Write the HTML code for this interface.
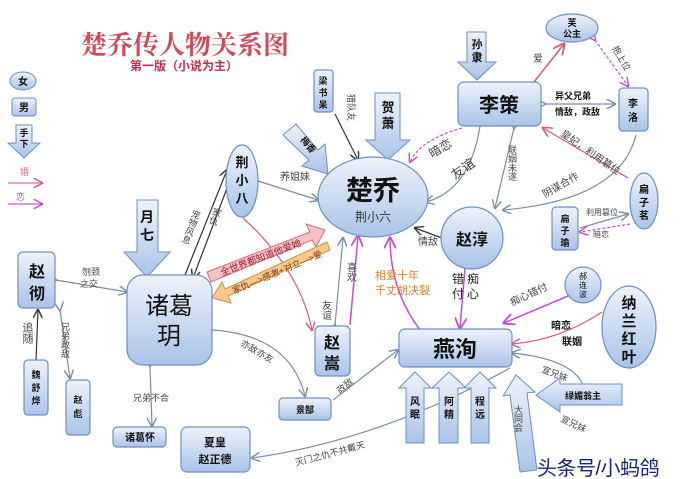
<!DOCTYPE html>
<html><head><meta charset="utf-8"><style>
html,body{margin:0;padding:0;background:#fff;}
svg{display:block;font-family:"Liberation Sans","Noto Sans CJK SC",sans-serif;}
.b{font-weight:bold;fill:#111;}
.l{font-size:10px;fill:#444;}
</style></head><body>
<svg width="696" height="479" viewBox="0 0 696 479" xmlns="http://www.w3.org/2000/svg">
<defs>
<linearGradient id="g" x1="0" y1="0" x2="0" y2="1"><stop offset="0" stop-color="#eef3fb"/><stop offset="1" stop-color="#a9c3e8"/></linearGradient>
<marker id="a" markerWidth="8" markerHeight="8" refX="7" refY="4" orient="auto"><path d="M0,0 L8,4 L0,8" fill="none" stroke="#7a8ea8" stroke-width="1.2"/></marker>
<marker id="ar" markerWidth="8" markerHeight="8" refX="7" refY="4" orient="auto"><path d="M0,0 L8,4 L0,8" fill="none" stroke="#d0607a" stroke-width="1.2"/></marker>
<marker id="ap" markerWidth="8" markerHeight="8" refX="7" refY="4" orient="auto"><path d="M0,0 L8,4 L0,8" fill="none" stroke="#c050d0" stroke-width="1.2"/></marker>
<marker id="ak" markerWidth="8" markerHeight="8" refX="7" refY="4" orient="auto"><path d="M0,0 L8,4 L0,8" fill="none" stroke="#333" stroke-width="1.2"/></marker>
</defs>

<text x="185" y="54" text-anchor="middle" font-size="26" font-weight="bold" fill="#d04a5a" font-family="Liberation Serif,Noto Serif CJK SC,serif">楚乔传人物关系图</text>
<text x="184" y="70" text-anchor="middle" font-size="12" font-weight="bold" fill="#c0304a">第一版（小说为主）</text>

<ellipse cx="23" cy="81" rx="13" ry="9" fill="url(#g)" stroke="#6f8fc0"/>
<text x="23" y="85" text-anchor="middle" font-size="10" class="b">女</text>
<rect x="12" y="98" width="24" height="18" rx="3" fill="url(#g)" stroke="#6f8fc0"/>
<text x="24" y="111" text-anchor="middle" font-size="10" class="b">男</text>
<path d="M16,125 H32 V143 H40 L24,158 L8,143 H16 Z" fill="url(#g)" stroke="#6f8fc0"/>
<text x="24" y="136" text-anchor="middle" font-size="9" class="b">手</text>
<text x="24" y="147" text-anchor="middle" font-size="9" class="b">下</text>
<text x="20" y="175" font-size="9" fill="#e07080">婚</text>
<line x1="8" y1="183" x2="42" y2="183" stroke="#e07080" stroke-width="1.2" marker-end="url(#ar)"/>
<text x="16" y="200" font-size="9" fill="#c060d0">恋</text>
<line x1="8" y1="204" x2="42" y2="204" stroke="#c060d0" stroke-width="1.2" marker-end="url(#ap)"/>

<g fill="none" stroke-width="1.2">
<path d="M335,114 L358,160" stroke="#333" marker-end="url(#ak)"/>
<path d="M258,181 L318,200" stroke="#7a8ea8" marker-end="url(#a)" marker-start="url(#a)"/>
<path d="M185,275 L227,170" stroke="#333" marker-end="url(#ak)"/>
<path d="M232,175 L193,278" stroke="#333" marker-end="url(#ak)"/>
<path d="M243,218 Q300,270 312,330" stroke="#d0607a" marker-end="url(#ar)"/>
<path d="M335,325 L343,238" stroke="#7a8ea8" marker-end="url(#a)" marker-start="url(#a)"/>
<path d="M350,325 L358,236" stroke="#c050d0" stroke-width="1.5" marker-end="url(#ap)"/>
<path d="M420,330 Q390,290 390,238" stroke="#c050d0" stroke-width="1.5" marker-end="url(#ap)" marker-start="url(#ap)"/>
<path d="M442,238 L415,228" stroke="#333" marker-end="url(#ak)"/>
<path d="M465,268 L460,328" stroke="#c050d0" stroke-width="1.5" marker-end="url(#ap)"/>
<path d="M480,126 Q470,190 426,202" stroke="#7a8ea8" marker-end="url(#a)" marker-start="url(#a)"/>
<path d="M462,128 Q420,140 410,162" stroke="#c050d0" stroke-dasharray="3,2" marker-end="url(#ap)"/>
<path d="M514,128 L495,208" stroke="#7a8ea8" marker-end="url(#a)" marker-start="url(#a)"/>
<path d="M534,82 L564,44" stroke="#d0607a" stroke-width="1.5" marker-end="url(#ar)"/>
<path d="M595,40 L628,86" stroke="#c050d0" stroke-dasharray="3,2" marker-end="url(#ap)" marker-start="url(#ap)"/>
<path d="M545,104 L615,104" stroke="#7a8ea8" marker-end="url(#a)" marker-start="url(#a)"/>
<path d="M628,178 L543,128" stroke="#d0607a" stroke-width="1.3" marker-end="url(#ar)"/>
<path d="M636,135 Q620,200 503,210" stroke="#7a8ea8" marker-end="url(#a)"/>
<path d="M580,228 L628,214" stroke="#7a8ea8" marker-end="url(#a)"/>
<path d="M630,224 L580,232" stroke="#c050d0" stroke-dasharray="3,2" marker-end="url(#ap)"/>
<path d="M568,296 L504,323" stroke="#c050d0" stroke-width="1.5" marker-end="url(#ap)"/>
<path d="M602,312 Q560,340 512,344" stroke="#d0607a" marker-end="url(#ar)"/>
<path d="M585,392 Q580,360 512,353" stroke="#7a8ea8" marker-end="url(#a)"/>
<path d="M56,280 L127,292" stroke="#7a8ea8" marker-end="url(#a)" marker-start="url(#a)"/>
<path d="M36,360 L38,310" stroke="#333" marker-end="url(#ak)"/>
<path d="M60,310 L70,378" stroke="#7a8ea8" marker-end="url(#a)" marker-start="url(#a)"/>
<path d="M150,366 L152,426" stroke="#7a8ea8" marker-end="url(#a)" marker-start="url(#a)"/>
<path d="M212,330 Q290,335 305,396" stroke="#7a8ea8" marker-end="url(#a)"/>
<path d="M333,400 L398,350" stroke="#7a8ea8" marker-end="url(#a)"/>
<path d="M510,368 Q380,440 252,458" stroke="#7a8ea8" marker-end="url(#a)"/>
</g>

<g class="l">
<text x="280" y="180">养姐妹</text>
<text x="348" y="94" font-size="9" transform="rotate(90 348 94)">猎队友</text>
<text x="197" y="210" font-size="9" writing-mode="tb" transform="rotate(20 197 210)">宠物风息</text>
<text x="218" y="208" font-size="9" writing-mode="tb" transform="rotate(20 218 208)">家仇</text>
<text x="325" y="300" font-size="10" writing-mode="tb">友谊</text>
<text x="350" y="262" font-size="10" writing-mode="tb">喜欢</text>
<text x="375" y="279" font-size="11" fill="#e08030">相爱十年</text>
<text x="375" y="294" font-size="11" fill="#e08030">千丈胡决裂</text>
<text x="418" y="245">情敌</text>
<text x="452" y="283" font-size="12" fill="#222" letter-spacing="3">错痴</text>
<text x="452" y="298" font-size="12" fill="#222" letter-spacing="3">付心</text>
<text x="455" y="180" font-size="13" transform="rotate(-35 455 180)">友谊</text>
<text x="432" y="158" font-size="12" transform="rotate(-30 432 158)">暗恋</text>
<text x="512" y="145" font-size="9" writing-mode="tb">联姻未遂</text>
<text x="533" y="62" font-size="10">爱</text>
<text x="612" y="48" font-size="9" transform="rotate(60 612 48)">抱上位</text>
<text x="555" y="99" font-size="9" class="b">异父兄弟</text>
<text x="555" y="115" font-size="9" class="b">情敌，政敌</text>
<text x="560" y="135" font-size="10" transform="rotate(35 560 135)">皇妃，利用篡位</text>
<text x="545" y="198" font-size="10" transform="rotate(-30 545 198)">阴谋合作</text>
<text x="586" y="215" font-size="8">利用篡位</text>
<text x="593" y="237" font-size="8">暗恋</text>
<text x="512" y="306" font-size="10" transform="rotate(-25 512 306)">痴心错付</text>
<text x="551" y="329" font-size="10" class="b">暗恋</text>
<text x="562" y="345" font-size="10" class="b">联姻</text>
<text x="541" y="372" font-size="9" transform="rotate(20 541 372)">宣兄妹</text>
<text x="560" y="421" font-size="9" transform="rotate(25 560 421)">宣兄妹</text>
<text x="82" y="275" font-size="9">刎颈</text>
<text x="80" y="287" font-size="9">之交</text>
<text x="27" y="322" font-size="11" writing-mode="tb">追随</text>
<text x="65" y="322" font-size="9" writing-mode="tb">兄弟政敌</text>
<text x="133" y="401" font-size="9">兄弟不合</text>
<text x="240" y="345" font-size="9" transform="rotate(30 240 345)">亦敌亦友</text>
<text x="340" y="394" font-size="9" transform="rotate(-40 340 394)">政敌</text>
<text x="296" y="466" font-size="9" transform="rotate(-15 296 466)">灭门之仇不共戴天</text>
</g>

<path d="M207,272 L310,232 L306,224 L325,230 L316,247 L312,240 L211,282 Z" fill="#f6c0c4" stroke="#d07080"/>
<text x="222" y="276" font-size="9.5" fill="#a02030" transform="rotate(-21 222 276)">全世界都知道他爱她</text>
<path d="M330,250 L228,296 L231,303 L212,298 L222,282 L225,289 L327,242 Z" fill="#f8c88c" stroke="#d09040"/>
<text x="234" y="294" font-size="9" fill="#7a3a10" transform="rotate(-23 234 294)">家仇—>感激+对立—>爱</text>

<g fill="url(#g)" stroke="#6f8fc0" stroke-width="1">
<path d="M375,93 H400 V140 H410 L388,160 L366,140 H375 Z"/>
<path d="M467,32 H486 V62 H496 L477,80 L458,62 H467 Z"/>
<path d="M137,200 H158 V252 H170 L147,277 L124,252 H137 Z"/>
<path d="M283,135 L296,124 L318,150 L325,144 L328,174 L302,166 L309,160 Z"/>
<path d="M406,443 H424 V388 H431 L415,372 L399,388 H406 Z"/>
<path d="M439,443 H458 V388 H466 L449,372 L432,388 H439 Z"/>
<path d="M471,443 H489 V388 H496 L480,372 L464,388 H471 Z"/>
<path d="M520,472 L537,470 L527,393 L535,392 L516,375 L503,396 L510,395 Z"/>
<path d="M622,384 V405 H560 V412 L536,395 L560,378 V384 Z"/>
</g>
<g class="b">
<text x="388" y="112" font-size="13" text-anchor="middle">贺</text>
<text x="388" y="128" font-size="13" text-anchor="middle">萧</text>
<text x="477" y="48" font-size="11" text-anchor="middle">孙</text>
<text x="477" y="61" font-size="11" text-anchor="middle">隶</text>
<text x="147" y="222" font-size="14" text-anchor="middle">月</text>
<text x="147" y="240" font-size="14" text-anchor="middle">七</text>
<text x="300" y="140" font-size="9" transform="rotate(50 300 140)">梅香</text>
<text x="415" y="405" font-size="10" text-anchor="middle">风</text>
<text x="415" y="418" font-size="10" text-anchor="middle">眠</text>
<text x="449" y="405" font-size="10" text-anchor="middle">阿</text>
<text x="449" y="418" font-size="10" text-anchor="middle">精</text>
<text x="480" y="405" font-size="10" text-anchor="middle">程</text>
<text x="480" y="418" font-size="10" text-anchor="middle">远</text>
<text x="583" y="399" font-size="9" text-anchor="middle">绿媚翁主</text>
</g>
<text x="518" y="405" font-size="9" fill="#444" writing-mode="tb">大同会</text>

<g fill="url(#g)" stroke="#6f8fc0" stroke-width="1.2">
<rect x="314" y="70" width="19" height="42" rx="3"/>
<rect x="458" y="82" width="83" height="44" rx="6"/>
<ellipse cx="572" cy="28" rx="26" ry="14"/>
<rect x="619" y="88" width="29" height="43" rx="4"/>
<ellipse cx="373" cy="197" rx="55" ry="40"/>
<ellipse cx="242" cy="181" rx="16" ry="36"/>
<rect x="127" y="275" width="85" height="90" rx="16"/>
<rect x="18" y="252" width="37" height="56" rx="5"/>
<rect x="24" y="360" width="24" height="55" rx="4"/>
<rect x="66" y="380" width="24" height="55" rx="4"/>
<rect x="113" y="427" width="53" height="20" rx="4"/>
<rect x="181" y="427" width="69" height="45" rx="6"/>
<rect x="279" y="398" width="52" height="22" rx="4"/>
<rect x="315" y="326" width="35" height="50" rx="5"/>
<rect x="399" y="329" width="113" height="38" rx="6"/>
<circle cx="472" cy="238" r="31"/>
<ellipse cx="644" cy="201" rx="14" ry="28"/>
<rect x="552" y="207" width="26" height="43" rx="4"/>
<circle cx="583" cy="285" r="18"/>
<ellipse cx="629" cy="327" rx="27" ry="41"/>
</g>
<g class="b" text-anchor="middle">
<text x="323" y="84" font-size="9">梁</text>
<text x="323" y="96" font-size="9">书</text>
<text x="323" y="108" font-size="9">呆</text>
<text x="499" y="112" font-size="20">李策</text>
<text x="572" y="26" font-size="9">芙</text>
<text x="572" y="37" font-size="9">公主</text>
<text x="633" y="107" font-size="10">李</text>
<text x="633" y="121" font-size="10">洛</text>
<text x="373" y="200" font-size="27">楚乔</text>
<text x="242" y="167" font-size="13">荆</text>
<text x="242" y="185" font-size="13">小</text>
<text x="242" y="203" font-size="13">八</text>
<text x="169" y="314" font-size="24" font-weight="normal">诸葛</text>
<text x="169" y="344" font-size="24" font-weight="normal">玥</text>
<text x="37" y="277" font-size="16">赵</text>
<text x="37" y="299" font-size="16">彻</text>
<text x="36" y="378" font-size="9">魏</text>
<text x="36" y="391" font-size="9">舒</text>
<text x="36" y="404" font-size="9">烨</text>
<text x="78" y="403" font-size="9">赵</text>
<text x="78" y="417" font-size="9">彪</text>
<text x="140" y="441" font-size="10">诸葛怀</text>
<text x="215" y="446" font-size="11">夏皇</text>
<text x="215" y="463" font-size="11">赵正德</text>
<text x="305" y="413" font-size="9">景郜</text>
<text x="332" y="348" font-size="16">赵</text>
<text x="332" y="369" font-size="16">嵩</text>
<text x="455" y="357" font-size="22">燕洵</text>
<text x="472" y="245" font-size="16">赵淳</text>
<text x="644" y="193" font-size="10">扁</text>
<text x="644" y="206" font-size="10">子</text>
<text x="644" y="219" font-size="10">茗</text>
<text x="565" y="222" font-size="9">扁</text>
<text x="565" y="234" font-size="9">子</text>
<text x="565" y="246" font-size="9">瑜</text>
<text x="583" y="279" font-size="8" font-weight="normal">郝</text>
<text x="583" y="288" font-size="8" font-weight="normal">连</text>
<text x="583" y="297" font-size="8" font-weight="normal">波</text>
<text x="629" y="308" font-size="15">纳</text>
<text x="629" y="326" font-size="15">兰</text>
<text x="629" y="344" font-size="15">红</text>
<text x="629" y="362" font-size="15">叶</text>
</g>
<text x="373" y="221" text-anchor="middle" font-size="12" fill="#333">荆小六</text>

<text x="537" y="475" font-size="20" fill="#1a237e" letter-spacing="-0.5">头条号/小蚂鸽</text>
</svg>
</body></html>
